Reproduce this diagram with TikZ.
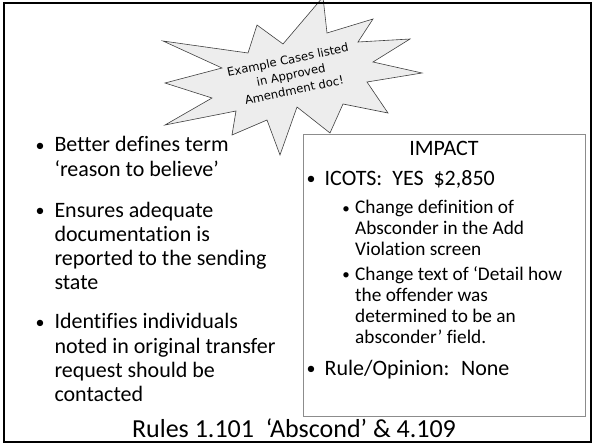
\documentclass[tikz,border=0pt]{standalone}
\usepackage{fontspec}
\setmainfont{Carlito}[Ligatures={NoCommon}]
\newfontfamily\burstfont{DejaVu Sans}

\begin{document}
\begin{tikzpicture}[x=1pt, y=-1pt,
    body/.style={inner sep=0pt, align=left, anchor=north west, font=\fontsize{22}{24.3}\selectfont},
    sub/.style={inner sep=0pt, align=left, anchor=north west, font=\fontsize{19.3}{21}\selectfont},
    line/.style={inner sep=0pt, anchor=base west, font=\fontsize{22}{24.3}\selectfont},
    dot/.style={inner sep=0pt, anchor=base, font=\fontsize{#1}{#1}\selectfont},
    burst/.style={draw=black!75, fill=black!7, line width=0.6pt, line join=miter}
]
    \useasboundingbox (0,0) rectangle (592,444);

    % Explosion callout
    \draw[burst] (323,-3) -- (327,33) -- (373,19) -- (358,42) -- (410,39) -- (373,62)
        -- (422,73) -- (367,82) -- (388,113) -- (343,104) -- (330,133) -- (297,107)
        -- (280,155) -- (267,120) -- (232,135) -- (236,111) -- (165,125) -- (212,98)
        -- (165,83) -- (222,68) -- (163,41) -- (248,53) -- (257,25) -- (283,44) -- cycle;
    \node[font=\burstfont\fontsize{11.6}{15.5}\selectfont, align=center, rotate=12, inner sep=0pt]
        (note) at (291,75) {Example Cases listed\\in Approved\\Amendment doc!};

    % Left column
    \node[dot=18] (d1) at (40,151) {•};
    \node[body] (b1) at (54.3,134.5) {\strut Better defines term\\‘reason to believe’};
    \node[dot=18] (d2) at (40,216.3) {•};
    \node[body] (b2) at (54.3,199.8) {\strut Ensures adequate\\documentation is\\reported to the sending\\state};
    \node[dot=18] (d3) at (40,328.2) {•};
    \node[body] (b3) at (54.3,311.7) {\strut Identifies individuals\\noted in original transfer\\request should be\\contacted};

    % Impact box
    \node[draw=black!45, line width=1pt, minimum width=281.5pt, minimum height=282pt,
        anchor=north west, inner sep=0pt] (impactbox) at (303,134) {};
    \node[dot=22] (impact) at (444,155) {IMPACT};
    \node[dot=18] (d4) at (311,184.5) {•};
    \node[line] (icots) at (324.5,185) {ICOTS:~ YES~ \$2,850};
    \node[dot=15] (d5) at (346,213) {•};
    \node[sub] (s1) at (355,198.6) {\strut Change definition of\\Absconder in the Add\\Violation screen};
    \node[dot=15] (d6) at (346,279.7) {•};
    \node[sub] (s2) at (355,265.3) {\strut Change text of ‘Detail how\\the offender was\\determined to be an\\absconder’ field.};
    \node[dot=18] (d7) at (311,374.5) {•};
    \node[line] (rule) at (324.5,375) {Rule/Opinion:~ None};

    % Title
    \node[dot=26] (title) at (294,437) {Rules 1.101~ ‘Abscond’ \& 4.109};

    % Slide frame
    \draw[line width=2.5pt] (4,3) rectangle (591.5,442);
\end{tikzpicture}
\end{document}
